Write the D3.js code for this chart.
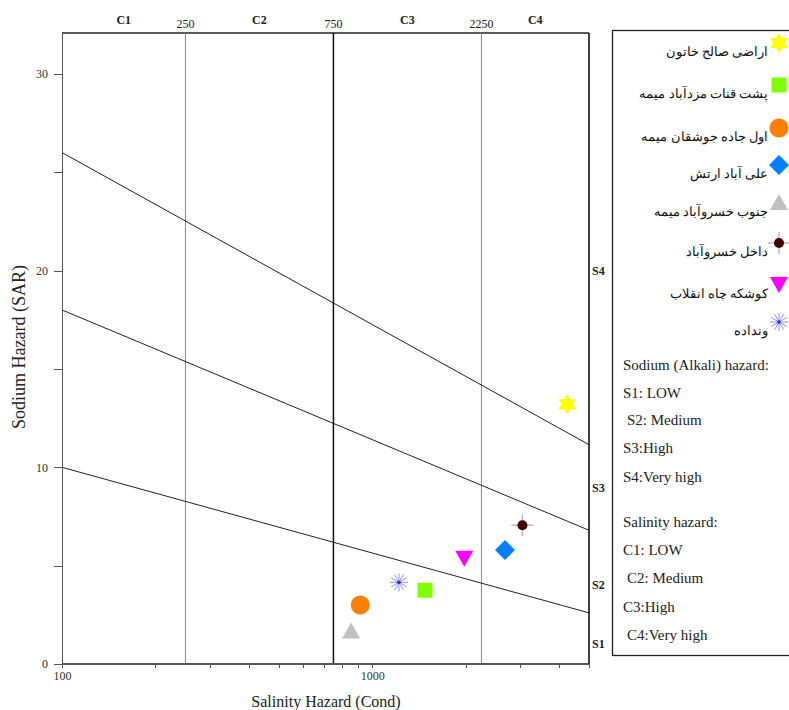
<!DOCTYPE html>
<html lang="en">
<head>
<meta charset="UTF-8">
<title>Wilcox diagram</title>
<script src="https://cdn.jsdelivr.net/npm/d3@7"></script>
<style>
    body { margin: 0; background: #fff; }
    text { font-family: "Liberation Serif", "Times New Roman", serif; }
    .axis path, .axis line { stroke: #555; shape-rendering: crispEdges; }
    .axis text { font-family: "Liberation Serif", serif; font-size: 12px; fill: #333; }
</style>
</head>
<body>
<script>
    // sample sites (Persian names), EC and SAR
    var sites = ["اراضی صالح خاتون", "پشت قنات مزدآباد میمه", "اول جاده جوشقان میمه", "علی آباد ارتش",
                 "جنوب خسروآباد میمه", "داخل خسروآباد", "کوشکه چاه انقلاب", "ونداده"]
    var cond = [4250, 1480, 915, 2680, 855, 3050, 1980, 1220]
    var sar = [13.2, 3.75, 3.0, 5.8, 1.65, 7.05, 5.35, 4.15]
    var symbols = ["hexagram", "square", "circle", "diamond", "triangle", "cross", "triangleDown", "asterisk"]
    var colors = ["#ffff00", "#80ff00", "#ff8000", "#0080ff", "#c0c0c0", "#400000", "#ff00ff", "#9090ff"]

    // salinity class boundaries and labels
    var cBounds = [250, 750, 2250]
    var cLabels = ["C1", "C2", "C3", "C4"]
    var cEdges = [100, 250, 750, 2250, 5000]

    // sodium hazard lines: SAR at EC=100 and EC=5000
    var sLineStart = [26, 18, 10]
    var sLineEnd = [11.15, 6.8, 2.6]
    var sLabels = ["S4", "S3", "S2", "S1"]
    var sLabelY = [20, 8.95, 4.0, 1.0]

    var yTicks = [0, 10, 20, 30]
    var yMinor = [5, 15, 25]

    var notes1 = ["Sodium (Alkali) hazard:", "S1: LOW", " S2: Medium", "S3:High", "S4:Very high"]
    var notes2 = ["Salinity hazard:", "C1: LOW", " C2: Medium", "C3:High", " C4:Very high"]

    var W = 789, H = 710
    var pL = 62, pR = 589, pT = 33, pB = 664

    var svg = d3.select("body").append("svg")
        .attr("width", W).attr("height", H)

    var x = d3.scaleLog().domain([100, 5000]).range([pL, pR])
    var y = d3.scaleLinear().domain([0, 32.08]).range([pB, pT])

    // frame: top and right
    svg.append("line").attr("x1", pL).attr("x2", pR).attr("y1", pT).attr("y2", pT)
        .attr("stroke", "#222").attr("stroke-width", 1.3)
    svg.append("line").attr("x1", pR).attr("x2", pR).attr("y1", pT).attr("y2", pB)
        .attr("stroke", "#111").attr("stroke-width", 1.6)

    // vertical class lines
    svg.selectAll(".cline").data(cBounds).enter().append("line")
        .attr("class", "cline")
        .attr("x1", d => x(d)).attr("x2", d => x(d))
        .attr("y1", pT).attr("y2", pB)
        .attr("stroke", d => d == 750 ? "#111" : "#888")
        .attr("stroke-width", d => d == 750 ? 1.5 : 1)

    svg.selectAll(".cval").data(cBounds).enter().append("text")
        .attr("x", d => x(d)).attr("y", 28)
        .attr("text-anchor", "middle")
        .attr("font-size", 12).attr("fill", "#222")
        .text(d => d)

    svg.selectAll(".clab").data(cLabels).enter().append("text")
        .attr("x", (d, i) => x(Math.sqrt(cEdges[i] * cEdges[i + 1]))).attr("y", 24)
        .attr("text-anchor", "middle")
        .attr("font-size", 12).attr("font-weight", "bold").attr("fill", "#222")
        .text(d => d)

    // sodium hazard lines
    svg.selectAll(".sline").data(sLineStart).enter().append("line")
        .attr("x1", x(100)).attr("y1", d => y(d))
        .attr("x2", x(5000)).attr("y2", (d, i) => y(sLineEnd[i]))
        .attr("stroke", "#222").attr("stroke-width", 1)

    svg.selectAll(".slab").data(sLabels).enter().append("text")
        .attr("x", pR + 3).attr("y", (d, i) => y(sLabelY[i]) + 4)
        .attr("font-size", 12).attr("font-weight", "bold").attr("fill", "#222")
        .text(d => d)

    // axes
    var yAxis = d3.axisLeft(y).tickValues(yTicks).tickSize(8).tickPadding(6)
    svg.append("g").attr("class", "axis")
        .attr("transform", "translate(" + pL + ",0)")
        .call(yAxis)
        .call(g => g.select(".domain").attr("d", "M0," + pT + "V" + pB))
    svg.append("g").attr("class", "axis")
        .attr("transform", "translate(" + pL + ",0)")
        .call(d3.axisLeft(y).tickValues(yMinor).tickSize(8).tickFormat(""))
        .call(g => g.select(".domain").remove())

    var xAxis = d3.axisBottom(x).tickSize(4).tickPadding(3)
        .tickFormat(d => (d == 100 || d == 1000) ? d : "")
    svg.append("g").attr("class", "axis")
        .attr("transform", "translate(0," + pB + ")")
        .call(xAxis)
        .call(g => g.select(".domain").attr("d", "M" + pL + ",0H" + pR).attr("stroke", "#222").attr("stroke-width", 1.5))

    svg.append("text").attr("x", 326).attr("y", 707)
        .attr("text-anchor", "middle").attr("font-size", 16).attr("fill", "#222")
        .text("Salinity Hazard (Cond)")
    svg.append("text").attr("transform", "translate(25,347) rotate(-90)")
        .attr("text-anchor", "middle").attr("font-size", 18).attr("fill", "#222")
        .text("Sodium Hazard (SAR)")

    // marker drawing
    function hexagram(r) {
        var pts = []
        for (var k = 0; k < 12; k++) {
            var a = -Math.PI / 2 + k * Math.PI / 6
            var rr = k % 2 == 0 ? r : r * 0.58
            pts.push([rr * Math.cos(a), rr * Math.sin(a)])
        }
        return "M" + pts.join("L") + "Z"
    }

    function drawMarker(g, type, color) {
        if (type == "hexagram") {
            g.append("path").attr("d", hexagram(10)).attr("fill", color)
        } else if (type == "square") {
            g.append("rect").attr("x", -7.5).attr("y", -7.5).attr("width", 15).attr("height", 15).attr("fill", color)
        } else if (type == "circle") {
            g.append("circle").attr("r", 9.5).attr("fill", color)
        } else if (type == "diamond") {
            g.append("path").attr("d", "M0,-10L10,0L0,10L-10,0Z").attr("fill", color)
        } else if (type == "triangle") {
            g.append("path").attr("d", "M0,-9L9,7L-9,7Z").attr("fill", color)
        } else if (type == "triangleDown") {
            g.append("path").attr("d", "M-9,-8L9,-8L0,8Z").attr("fill", color)
        } else if (type == "cross") {
            g.append("path").attr("d", "M-11,0H11M0,-11V11").attr("stroke", "#d4b0b0").attr("stroke-width", 1.5)
            g.append("circle").attr("r", 5).attr("fill", color)
        } else if (type == "asterisk") {
            var d = ""
            for (var k = 0; k < 6; k++) {
                var a = k * Math.PI / 6
                d += "M" + (-9 * Math.cos(a)) + "," + (-9 * Math.sin(a)) + "L" + (9 * Math.cos(a)) + "," + (9 * Math.sin(a))
            }
            g.append("path").attr("d", d).attr("stroke", color).attr("stroke-width", 1)
            g.append("circle").attr("r", 1.8).attr("fill", "#3030b0")
        }
    }

    // data points
    sites.forEach(function(s, i) {
        var g = svg.append("g").attr("transform", "translate(" + x(cond[i]) + "," + y(sar[i]) + ")")
        drawMarker(g, symbols[i], colors[i])
    })

    // legend box
    svg.append("rect").attr("x", 612.5).attr("y", 30.5).attr("width", 190).attr("height", 625)
        .attr("fill", "none").attr("stroke", "#222").attr("stroke-width", 1.3)

    var legY = [43, 85, 128, 165, 203, 243, 285, 322]
    sites.forEach(function(s, i) {
        var g = svg.append("g").attr("transform", "translate(779," + legY[i] + ")")
        drawMarker(g, symbols[i], colors[i])
        svg.append("text").attr("x", 768).attr("y", legY[i] + 13)
            .attr("text-anchor", "start").attr("direction", "rtl")
            .attr("font-family", "DejaVu Sans").attr("font-size", 13).attr("fill", "#111")
            .text(s)
    })

    var y1 = [365, 393, 420, 448, 477]
    var y2 = [522, 550, 578, 607, 635]
    notes1.forEach(function(t, i) {
        svg.append("text").attr("x", t[0] == " " ? 627 : 623).attr("y", y1[i] + 5)
            .attr("font-size", 15).attr("fill", "#222").text(t.trim())
    })
    notes2.forEach(function(t, i) {
        svg.append("text").attr("x", t[0] == " " ? 627 : 623).attr("y", y2[i] + 5)
            .attr("font-size", 15).attr("fill", "#222").text(t.trim())
    })
</script>
</body>
</html>
